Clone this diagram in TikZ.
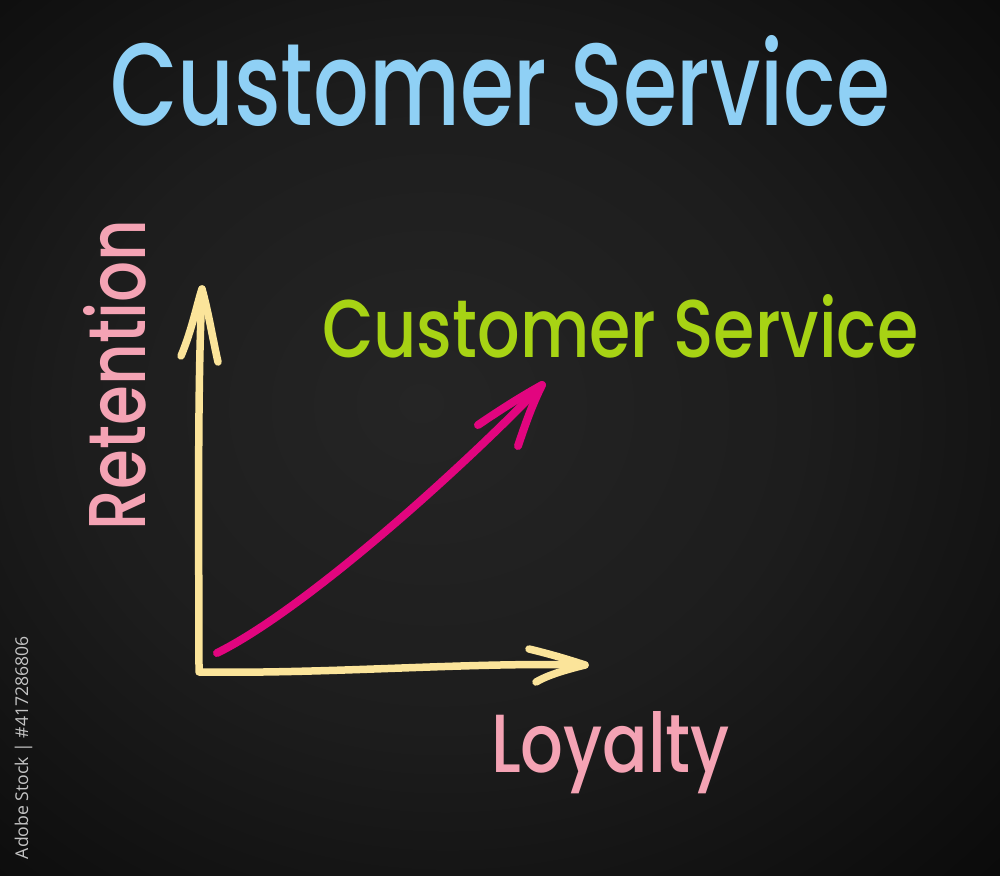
\documentclass[tikz,border=0pt]{standalone}
\usepackage{fontspec}
\setmainfont{Poppins Medium}
\newfontfamily\idfont{Open Sans}
\usepackage{graphicx}
\definecolor{titleblue}{RGB}{143,208,245}
\definecolor{limegreen}{RGB}{167,211,20}
\definecolor{softpink}{RGB}{244,163,180}
\definecolor{chalkyellow}{RGB}{251,228,154}
\definecolor{hotmagenta}{RGB}{226,5,127}
\definecolor{idgray}{RGB}{196,196,196}
\definecolor{bgA}{RGB}{37,37,37}
\definecolor{bgB}{RGB}{29,29,29}
\definecolor{bgC}{RGB}{12,12,12}
\definecolor{bgD}{RGB}{2,2,2}
\pgfdeclareradialshading{boardshade}{\pgfpoint{-4bp}{2bp}}{color(0bp)=(bgA); color(18bp)=(bgB); color(36bp)=(bgC); color(50bp)=(bgD); color(72bp)=(black)}
\begin{document}
\begin{tikzpicture}[x=1pt,y=-1pt,
  label/.style={inner sep=0pt, outer sep=0pt, anchor=base west},
  axisline/.style={draw=chalkyellow, line width=7.5pt, line cap=round, line join=round},
  trendline/.style={draw=hotmagenta, line width=8pt, line cap=round, line join=round}]
\useasboundingbox (0,0) rectangle (1000,875);
\shade[shading=boardshade] (0,0) rectangle (1000,875);

% texts
\node[label, text=titleblue] (title) at (110,125) {\resizebox{780pt}{90pt}{Customer Service}};
\node[label, text=limegreen] (service) at (322,357) {\resizebox{596pt}{63pt}{Customer Service}};
\node[label, text=softpink, rotate=90] (retention) at (145,530) {\resizebox{310pt}{62pt}{Retention}};
\node[label, text=softpink] (loyalty) at (491,772) {\resizebox{239pt}{61pt}{Loyalty}};
\node[label, text=idgray, rotate=90] (stockid) at (28,859) {\resizebox{223pt}{!}{\idfont Adobe Stock | \#417286806}};

% axes
\coordinate (origin) at (199,672);
\coordinate (ytip) at (202,289);
\coordinate (ybarbL) at (181,356);
\coordinate (ybarbR) at (218,362);
\coordinate (xtip) at (585,665);
\coordinate (xbarbU) at (529,649);
\coordinate (xbarbD) at (536,682);
\draw[axisline] (ytip) .. controls (197,400) and (199,560) .. (origin)
  .. controls (330,674) and (470,662) .. (xtip);
\draw[axisline] (ybarbL) .. controls (192,330) and (198,300) .. (ytip)
  .. controls (208,310) and (213,340) .. (ybarbR);
\draw[axisline] (xbarbU) .. controls (550,654) and (570,660) .. (xtip)
  .. controls (565,670) and (548,675) .. (xbarbD);

% trend arrow
\coordinate (tstart) at (217,653);
\coordinate (ttip) at (542,385);
\coordinate (tbarbL) at (478,425);
\coordinate (tbarbR) at (518,446);
\draw[trendline] (tstart) .. controls (300,612) and (448,482) .. (ttip);
\draw[trendline] (tbarbL) .. controls (500,410) and (522,396) .. (ttip)
  .. controls (532,405) and (525,425) .. (tbarbR);
\end{tikzpicture}
\end{document}
